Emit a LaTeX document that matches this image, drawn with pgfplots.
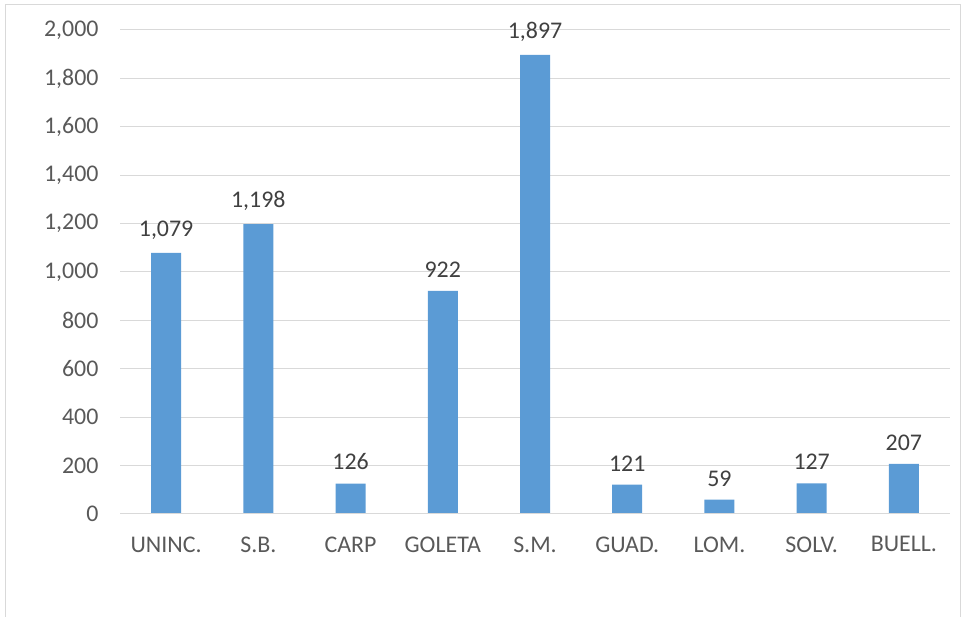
\documentclass[border=0pt]{standalone}
\usepackage{pgfplots}
\pgfplotsset{compat=1.18}
\usepackage{fontspec}
\setmainfont{Carlito}
\definecolor{barblue}{HTML}{5B9BD5}
\definecolor{gridgray}{HTML}{D9D9D9}
\definecolor{framegray}{HTML}{D9D9D9}
\definecolor{txt}{HTML}{595959}
\definecolor{lbl}{HTML}{404040}
\begin{document}
\begin{tikzpicture}[x=1bp,y=1bp]
\useasboundingbox (0,0) rectangle (966,617);
\draw[framegray, line width=1bp] (5.5,0) -- (5.5,612.5) -- (960.5,612.5) -- (960.5,0);
\begin{axis}[
  at={(120bp,103bp)}, anchor=south west,
  scale only axis, width=830bp, height=484bp,
  xmin=-0.5, xmax=8.5, ymin=0, ymax=2000,
  axis line style={draw=none},
  ymajorgrids, grid style={gridgray, line width=1bp},
  major tick length=0pt,
  ytick={0,200,...,2000},
  xtick={0,...,8},
  xticklabels={UNINC.,S.B.,CARP,GOLETA,S.M.,GUAD.,LOM.,SOLV.,BUELL.},
  scaled y ticks=false,
  /pgf/number format/assume math mode=true,
  /pgf/number format/1000 sep={,},
  ticklabel style={font=\fontsize{24}{28}\selectfont, text=txt},
  xticklabel style={yshift=-19bp},
  yticklabel style={xshift=-18bp},
  nodes near coords,
  nodes near coords style={font=\fontsize{24}{28}\selectfont, text=lbl, /pgf/number format/assume math mode=true, /pgf/number format/1000 sep={,}, yshift=10bp},
  clip=false,
]
\addplot[ybar, bar width=30bp, fill=barblue, draw=none] coordinates {
(0,1079) (1,1198) (2,126) (3,922) (4,1897) (5,121) (6,59) (7,127) (8,207)};
\draw[gridgray, line width=1bp] (axis cs:-0.5,0) -- (axis cs:8.5,0);
\end{axis}
\end{tikzpicture}
\end{document}
